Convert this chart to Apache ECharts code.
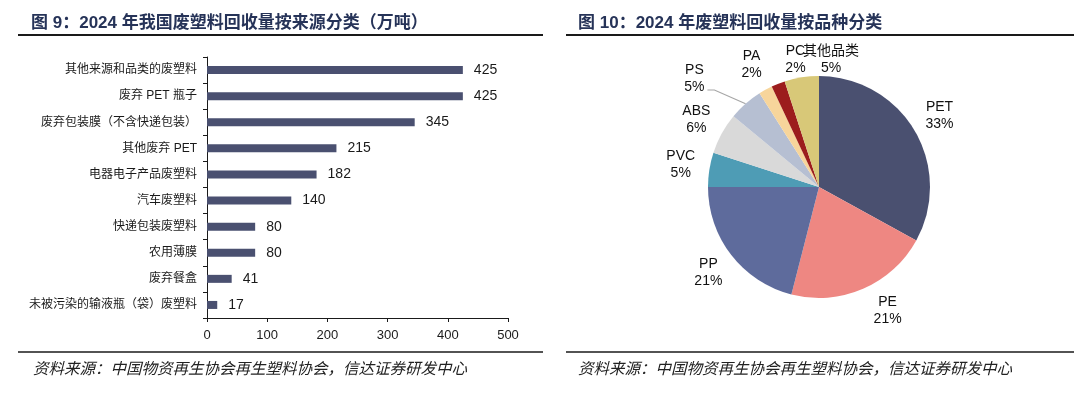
<!DOCTYPE html>
<html>
<head>
<meta charset="utf-8">
<script src="https://cdn.jsdelivr.net/npm/echarts@6/dist/echarts.min.js"></script>
<style>
html,body{margin:0;padding:0;background:#fff;}
#c{width:1080px;height:399px;}
</style>
</head>
<body>
<div id="c"></div>
<script>
// ---- data ----
const barCategories = ['其他来源和品类的废塑料','废弃 PET 瓶子','废弃包装膜（不含快递包装）','其他废弃 PET','电器电子产品废塑料','汽车废塑料','快递包装废塑料','农用薄膜','废弃餐盒','未被污染的输液瓶（袋）废塑料'];
const barValues = [425, 425, 345, 215, 182, 140, 80, 80, 41, 17];
const xTicks = [0, 100, 200, 300, 400, 500];

const pieNames = ['PET','PE','PP','PVC','ABS','PS','PA','PC','其他品类'];
const pieValues = [33, 21, 21, 5, 6, 5, 2, 2, 5];

const title1 = '图 9：2024 年我国废塑料回收量按来源分类（万吨）';
const title2 = '图 10：2024 年废塑料回收量按品种分类';
const sourceText = '资料来源：中国物资再生协会再生塑料协会，信达证券研发中心';

// ---- styles ----
const pieColors = ['#4a5070','#ee8782','#5e6b9c','#4e9cb5','#d9d9d9','#b6bfd2','#f7d59b','#9c1d1d','#d8c878'];
const PIE_CX = 819, PIE_CY = 187, PIE_R = 111, LABEL_R = 140;
const labelNudge = { 'PE': [13, -5], 'PS': [-32, -3], 'PC': [28, 3], '其他品类': [34, 11] };
const titleColor = '#263358';
const latin = '"Liberation Sans", "Noto Sans CJK SC", sans-serif';

const chart = echarts.init(document.getElementById('c'));
const total = pieValues.reduce((a, b) => a + b, 0);

function lineEl(x1, x2, y, w) {
  return { type: 'line', shape: { x1: x1, y1: y, x2: x2, y2: y }, style: { stroke: '#1a1a1a', lineWidth: w }, silent: true };
}
function textEl(x, y, t, style) {
  return { type: 'text', x: x, y: y, style: Object.assign({ text: t, verticalAlign: 'middle', align: 'left' }, style), silent: true };
}

chart.setOption({
  animation: false,
  backgroundColor: '#fff',
  graphic: [
    textEl(31, 23, title1, { font: 'bold 17px ' + latin, fill: titleColor }),
    textEl(578, 23, title2, { font: 'bold 17px ' + latin, fill: titleColor }),
    lineEl(18, 543, 35, 2),
    lineEl(566, 1074, 35, 2),
    lineEl(18, 543, 352, 1.5),
    lineEl(566, 1074, 352, 1.5),
    textEl(33, 368, sourceText, { font: 'italic 15.5px "Noto Sans CJK SC", sans-serif', fill: '#222' }),
    textEl(578, 368, sourceText, { font: 'italic 15.5px "Noto Sans CJK SC", sans-serif', fill: '#222' })
  ],
  grid: { left: 207, right: 572, top: 57, bottom: 81, containLabel: false },
  xAxis: {
    type: 'value', min: xTicks[0], max: xTicks[xTicks.length - 1], interval: xTicks[1] - xTicks[0],
    axisLine: { show: true, lineStyle: { color: '#1a1a1a', width: 1 } },
    axisTick: { show: true, length: 4, lineStyle: { color: '#1a1a1a' } },
    axisLabel: { margin: 11, fontSize: 13, color: '#1a1a1a', fontFamily: latin },
    splitLine: { show: false }
  },
  yAxis: {
    type: 'category', inverse: true, data: barCategories,
    axisLine: { show: true, lineStyle: { color: '#1a1a1a', width: 1 } },
    axisTick: { show: true, length: 4, lineStyle: { color: '#1a1a1a' } },
    axisLabel: { margin: 10, fontSize: 12, color: '#1a1a1a', fontFamily: latin }
  },
  series: [
    {
      type: 'bar', data: barValues, barWidth: 8,
      itemStyle: { color: '#4a5070' },
      label: { show: true, position: 'right', distance: 11, fontSize: 14, color: '#1a1a1a', fontFamily: latin }
    },
    {
      type: 'pie', center: [PIE_CX, PIE_CY], radius: PIE_R, startAngle: 90, clockwise: true,
      avoidLabelOverlap: false,
      data: pieNames.map((n, i) => ({
        name: n, value: pieValues[i], itemStyle: { color: pieColors[i] },
        labelLine: { show: n === 'PS', lineStyle: { color: '#a6a6a6', width: 1.2 }, length: 15, length2: 10 }
      })),
      itemStyle: { borderColor: '#fff', borderWidth: 0 },
      label: {
        show: true, position: 'outside', fontSize: 14, lineHeight: 17, color: '#111', fontFamily: latin,
        formatter: p => p.name + '\n' + Math.round(p.percent) + '%'
      },
      labelLayout: function (p) {
        const i = p.dataIndex;
        let before = 0;
        for (let k = 0; k < i; k++) before += pieValues[k];
        const mid = (before + pieValues[i] / 2) / total * Math.PI * 2;
        const nd = labelNudge[pieNames[i]] || [0, 0];
        const x = PIE_CX + LABEL_R * Math.sin(mid) + nd[0];
        const y = PIE_CY - LABEL_R * Math.cos(mid) + nd[1];
        const res = { x: x, y: y, align: 'center', verticalAlign: 'middle' };
        if (pieNames[i] === 'PS') {
          const ex = PIE_CX + PIE_R * Math.sin(mid), ey = PIE_CY - PIE_R * Math.cos(mid);
          res.labelLinePoints = [[ex, ey], [x + 20, y + 11], [x + 13, y + 11]];
        }
        return res;
      }
    }
  ]
});
</script>
</body>
</html>
